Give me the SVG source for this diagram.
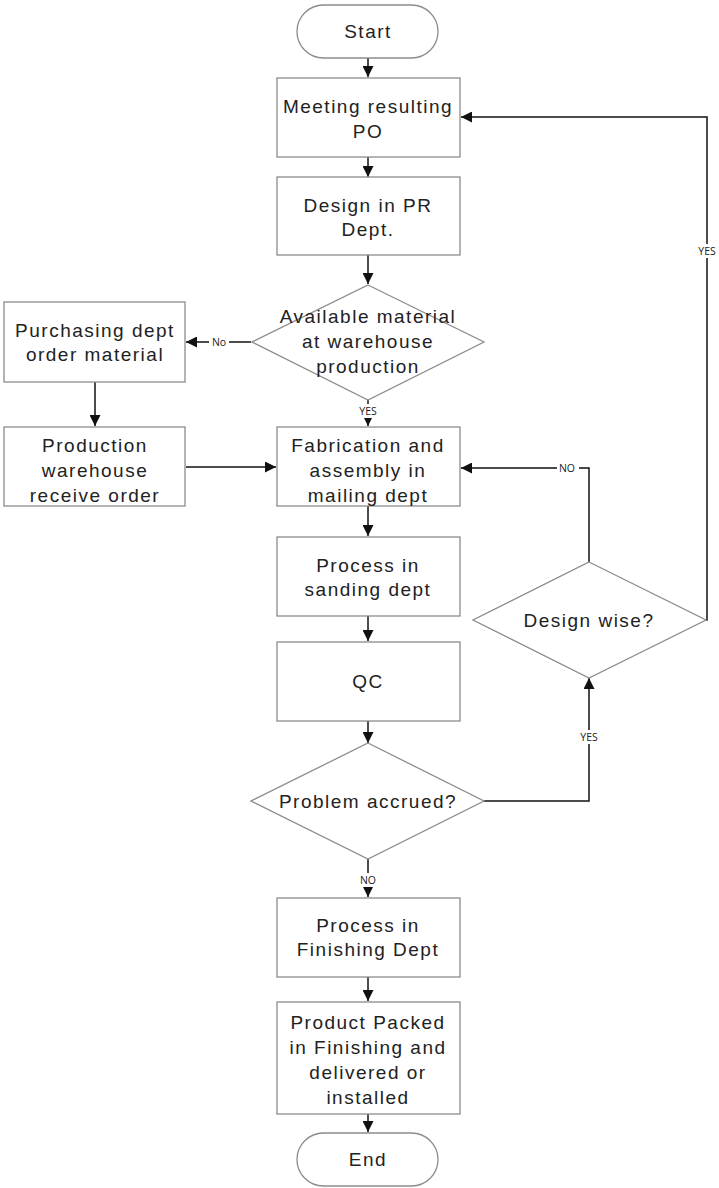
<svg xmlns="http://www.w3.org/2000/svg" width="719" height="1188" viewBox="0 0 719 1188">
<style>
.shape{fill:#fff;stroke:#8c8c8c;stroke-width:1.3}
.t{font-family:"Liberation Sans",Arial,sans-serif;font-size:19px;fill:#222;text-anchor:middle;letter-spacing:1.5px}
.c{fill:none;stroke:#111;stroke-width:1.5}
.lbl{font-family:"Open Sans","DejaVu Sans",sans-serif;font-size:10.5px;fill:#222;text-anchor:middle}
.lbg{fill:#fff}
</style>
<defs>
<marker id="ah" viewBox="0 0 10 10" refX="10" refY="5" markerWidth="11" markerHeight="11" markerUnits="userSpaceOnUse" orient="auto">
<path d="M0,0 L10,5 L0,10 z" fill="#111"/>
</marker>
</defs>
<rect width="719" height="1188" fill="#fff"/>
<g id="connectors">
<line class="c" x1="368" y1="58" x2="368" y2="77" marker-end="url(#ah)"/>
<line class="c" x1="368" y1="157" x2="368" y2="177" marker-end="url(#ah)"/>
<line class="c" x1="368" y1="255" x2="368" y2="284" marker-end="url(#ah)"/>
<line class="c" x1="251" y1="342" x2="186" y2="342" marker-end="url(#ah)"/>
<line class="c" x1="95" y1="382" x2="95" y2="426" marker-end="url(#ah)"/>
<line class="c" x1="186" y1="467" x2="276" y2="467" marker-end="url(#ah)"/>
<line class="c" x1="368" y1="400" x2="368" y2="426" marker-end="url(#ah)"/>
<line class="c" x1="368" y1="506" x2="368" y2="536" marker-end="url(#ah)"/>
<line class="c" x1="368" y1="616" x2="368" y2="641" marker-end="url(#ah)"/>
<line class="c" x1="368" y1="721" x2="368" y2="743" marker-end="url(#ah)"/>
<line class="c" x1="368" y1="859" x2="368" y2="897" marker-end="url(#ah)"/>
<line class="c" x1="368" y1="977" x2="368" y2="1001" marker-end="url(#ah)"/>
<line class="c" x1="368" y1="1114" x2="368" y2="1132" marker-end="url(#ah)"/>
<polyline class="c" points="484,801 589,801 589,678" marker-end="url(#ah)"/>
<polyline class="c" points="589,562 589,468 461,468" marker-end="url(#ah)"/>
<polyline class="c" points="706,620 707,620 707,117 461,117" marker-end="url(#ah)"/>
<rect class="lbg" x="209" y="335" width="20" height="14"/>
<text class="lbl" x="219" y="346">No</text>
<rect class="lbg" x="355" y="404" width="26" height="14"/>
<text class="lbl" x="368" y="415">YES</text>
<rect class="lbg" x="557" y="461" width="22" height="14"/>
<text class="lbl" x="567" y="472">NO</text>
<rect class="lbg" x="576" y="730" width="26" height="14"/>
<text class="lbl" x="589" y="741">YES</text>
<rect class="lbg" x="694" y="244" width="26" height="14"/>
<text class="lbl" x="707" y="255">YES</text>
<rect class="lbg" x="356" y="873" width="24" height="14"/>
<text class="lbl" x="368" y="884">NO</text>
</g>
<g id="start"><rect class="shape" x="297" y="5" width="141" height="53" rx="26.5"/><text class="t" x="368" y="38">Start</text></g>
<g id="meeting"><rect class="shape" x="277" y="78" width="183" height="79"/><text class="t" x="368" y="113">Meeting resulting</text><text class="t" x="368" y="138">PO</text></g>
<g id="design"><rect class="shape" x="277" y="177" width="183" height="78"/><text class="t" x="368" y="212">Design in PR</text><text class="t" x="368" y="236">Dept.</text></g>
<g id="available"><polygon class="shape" points="368,285 484,342 368,400 252,342"/><text class="t" x="368" y="323">Available material</text><text class="t" x="368" y="348">at warehouse</text><text class="t" x="368" y="373">production</text></g>
<g id="purchasing"><rect class="shape" x="4" y="302" width="181" height="80"/><text class="t" x="95" y="337">Purchasing dept</text><text class="t" x="95" y="361">order material</text></g>
<g id="receive"><rect class="shape" x="4" y="427" width="181" height="79"/><text class="t" x="95" y="452">Production</text><text class="t" x="95" y="477">warehouse</text><text class="t" x="95" y="502">receive order</text></g>
<g id="fabrication"><rect class="shape" x="277" y="427" width="183" height="79"/><text class="t" x="368" y="452">Fabrication and</text><text class="t" x="368" y="477">assembly in</text><text class="t" x="368" y="502">mailing dept</text></g>
<g id="sanding"><rect class="shape" x="277" y="537" width="183" height="79"/><text class="t" x="368" y="572">Process in</text><text class="t" x="368" y="596">sanding dept</text></g>
<g id="qc"><rect class="shape" x="277" y="642" width="183" height="79"/><text class="t" x="368" y="688">QC</text></g>
<g id="problem"><polygon class="shape" points="368,743 484,801 368,859 251,801"/><text class="t" x="368" y="808">Problem accrued?</text></g>
<g id="designwise"><polygon class="shape" points="589,562 706,620 589,678 473,620"/><text class="t" x="589" y="627">Design wise?</text></g>
<g id="finishing"><rect class="shape" x="277" y="898" width="183" height="79"/><text class="t" x="368" y="932">Process in</text><text class="t" x="368" y="956">Finishing Dept</text></g>
<g id="packed"><rect class="shape" x="277" y="1002" width="183" height="112"/><text class="t" x="368" y="1029">Product Packed</text><text class="t" x="368" y="1054">in Finishing and</text><text class="t" x="368" y="1079">delivered or</text><text class="t" x="368" y="1104">installed</text></g>
<g id="end"><rect class="shape" x="297" y="1133" width="141" height="53" rx="26.5"/><text class="t" x="368" y="1166">End</text></g>
</svg>
